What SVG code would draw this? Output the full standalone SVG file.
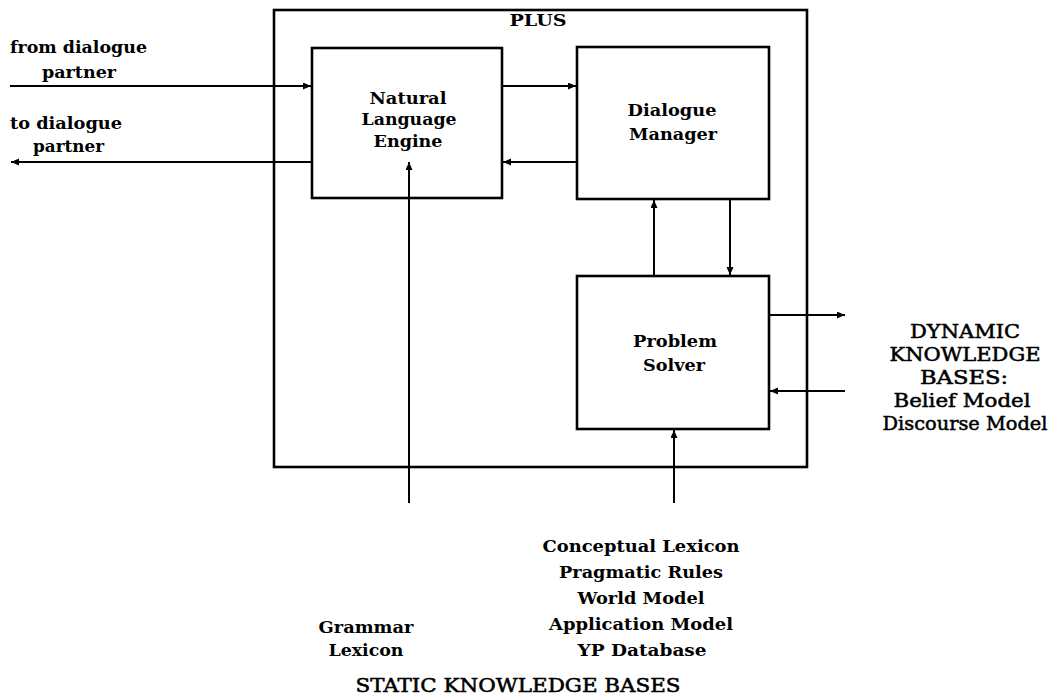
<svg xmlns="http://www.w3.org/2000/svg" width="1055" height="699" viewBox="0 0 1055 699">
<style>
.box{fill:none;stroke:#000;stroke-width:2.6}
.ln{fill:none;stroke:#000;stroke-width:2}
.b{font-family:"DejaVu Serif","Liberation Serif",serif;font-weight:bold;font-size:17px;fill:#000}
.r{font-family:"DejaVu Serif","Liberation Serif",serif;font-size:18px;fill:#000;stroke:#000;stroke-width:0.5}
.m{text-anchor:middle}
</style>
<defs>
<marker id="ah" markerUnits="userSpaceOnUse" markerWidth="10" markerHeight="8" refX="8" refY="3.5" orient="auto">
<path d="M0,0 L8,3.5 L0,7 z" fill="#000"/>
</marker>
</defs>
<rect width="1055" height="699" fill="#fff"/>

<g id="plus">
<rect class="box" x="274" y="10" width="533" height="457"/>
<text class="b m" x="538" y="26" textLength="57" lengthAdjust="spacingAndGlyphs">PLUS</text>
</g>

<g id="nle">
<rect class="box" x="312" y="48" width="190" height="150"/>
<text class="b m" x="408" y="104" textLength="77" lengthAdjust="spacingAndGlyphs">Natural</text>
<text class="b m" x="409" y="125" textLength="95" lengthAdjust="spacingAndGlyphs">Language</text>
<text class="b m" x="408" y="147" textLength="69" lengthAdjust="spacingAndGlyphs">Engine</text>
</g>

<g id="dm">
<rect class="box" x="577" y="47" width="192" height="152"/>
<text class="b m" x="672" y="116" textLength="89" lengthAdjust="spacingAndGlyphs">Dialogue</text>
<text class="b m" x="673" y="140" textLength="88" lengthAdjust="spacingAndGlyphs">Manager</text>
</g>

<g id="ps">
<rect class="box" x="577" y="276" width="192" height="153"/>
<text class="b m" x="675" y="347" textLength="84" lengthAdjust="spacingAndGlyphs">Problem</text>
<text class="b m" x="674" y="371" textLength="62" lengthAdjust="spacingAndGlyphs">Solver</text>
</g>

<g id="partner-labels">
<text class="b" x="10" y="53" textLength="137" lengthAdjust="spacingAndGlyphs">from dialogue</text>
<text class="b" x="42" y="78" textLength="74" lengthAdjust="spacingAndGlyphs">partner</text>
<text class="b" x="10" y="129" textLength="112" lengthAdjust="spacingAndGlyphs">to dialogue</text>
<text class="b" x="33" y="152" textLength="71" lengthAdjust="spacingAndGlyphs">partner</text>
</g>

<g id="dynamic-kb">
<text class="r m" x="965" y="338" textLength="110" lengthAdjust="spacingAndGlyphs">DYNAMIC</text>
<text class="r m" x="965" y="361" textLength="151" lengthAdjust="spacingAndGlyphs">KNOWLEDGE</text>
<text class="r m" x="964" y="384" textLength="88" lengthAdjust="spacingAndGlyphs">BASES:</text>
<text class="r m" x="962" y="407" textLength="137" lengthAdjust="spacingAndGlyphs">Belief Model</text>
<text class="r m" x="965" y="430" textLength="165" lengthAdjust="spacingAndGlyphs">Discourse Model</text>
</g>

<g id="static-kb">
<text class="b m" x="366" y="633" textLength="95" lengthAdjust="spacingAndGlyphs">Grammar</text>
<text class="b m" x="366" y="656" textLength="75" lengthAdjust="spacingAndGlyphs">Lexicon</text>
<text class="b m" x="641" y="552" textLength="197" lengthAdjust="spacingAndGlyphs">Conceptual Lexicon</text>
<text class="b m" x="641" y="578" textLength="164" lengthAdjust="spacingAndGlyphs">Pragmatic Rules</text>
<text class="b m" x="641" y="604" textLength="127" lengthAdjust="spacingAndGlyphs">World Model</text>
<text class="b m" x="641" y="630" textLength="184" lengthAdjust="spacingAndGlyphs">Application Model</text>
<text class="b m" x="642" y="656" textLength="129" lengthAdjust="spacingAndGlyphs">YP Database</text>
<text class="r m" x="518" y="692" textLength="325" lengthAdjust="spacingAndGlyphs">STATIC KNOWLEDGE BASES</text>
</g>

<g id="connectors">
<line class="ln" x1="10" y1="86" x2="311" y2="86" marker-end="url(#ah)"/>
<line class="ln" x1="312" y1="162" x2="11" y2="162" marker-end="url(#ah)"/>
<line class="ln" x1="502" y1="86" x2="576" y2="86" marker-end="url(#ah)"/>
<line class="ln" x1="577" y1="162" x2="503" y2="162" marker-end="url(#ah)"/>
<line class="ln" x1="409" y1="503" x2="409" y2="162" marker-end="url(#ah)"/>
<line class="ln" x1="654" y1="276" x2="654" y2="200" marker-end="url(#ah)"/>
<line class="ln" x1="730" y1="200" x2="730" y2="275" marker-end="url(#ah)"/>
<line class="ln" x1="769" y1="315" x2="845" y2="315" marker-end="url(#ah)"/>
<line class="ln" x1="845" y1="391" x2="770" y2="391" marker-end="url(#ah)"/>
<line class="ln" x1="674" y1="503" x2="674" y2="430" marker-end="url(#ah)"/>
</g>
</svg>
